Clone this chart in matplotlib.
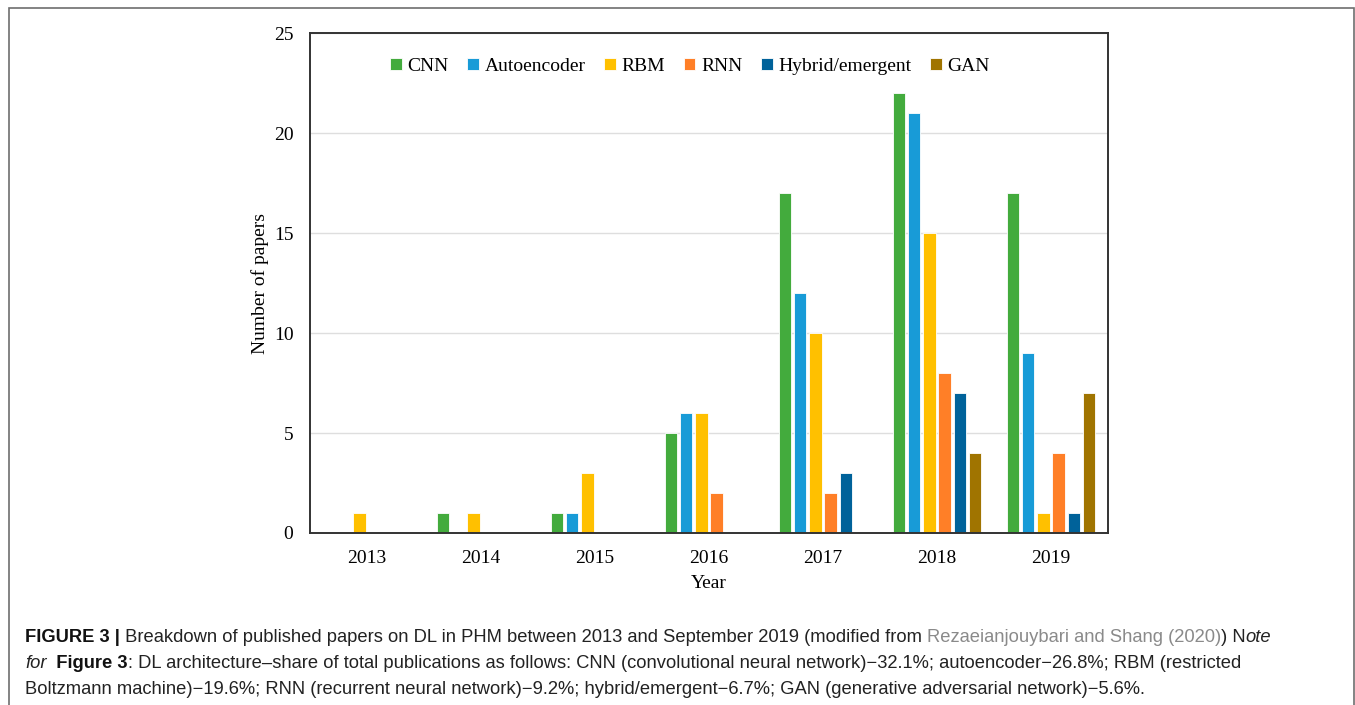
import numpy as np
import matplotlib
matplotlib.use("Agg")
import matplotlib.pyplot as plt
from matplotlib.patches import Rectangle

years = ["2013", "2014", "2015", "2016", "2017", "2018", "2019"]
series_names = ["CNN", "Autoencoder", "RBM", "RNN", "Hybrid/emergent", "GAN"]
cnn = [0, 1, 1, 5, 17, 22, 17]
autoencoder = [0, 0, 1, 6, 12, 21, 9]
rbm = [1, 1, 3, 6, 10, 15, 1]
rnn = [0, 0, 0, 2, 2, 8, 4]
hybrid = [0, 0, 0, 0, 3, 7, 1]
gan = [0, 0, 0, 0, 0, 4, 7]
colors = ["#43ab3d", "#189bd7", "#ffc000", "#ff7f27", "#00629a", "#a07400"]

serif = "Liberation Serif"
sans = "Liberation Sans"

fig = plt.figure(figsize=(13.55, 7.05), dpi=100)
ax = fig.add_axes([0.2288, 0.244, 0.5889, 0.709])
ax.set_axisbelow(True)

x = np.arange(len(years))
step = 0.133
width = 0.107
for i, (vals, name) in enumerate(zip([cnn, autoencoder, rbm, rnn, hybrid, gan], series_names)):
    ax.bar(x + (i - 2.5) * step, vals, width, color=colors[i], label=name,
           edgecolor="white", linewidth=0.6, zorder=2)

ax.set_xlim(-0.5, len(years) - 0.5)
ax.set_ylim(0, 25)
ax.set_yticks([0, 5, 10, 15, 20, 25])
ax.set_xticks(x)
ax.set_xticklabels(years)
ax.tick_params(length=0, labelsize=14, pad=12)
for lab in ax.get_xticklabels() + ax.get_yticklabels():
    lab.set_fontfamily(serif)
ax.yaxis.grid(True, color="#dedede", linewidth=1)
for s in ax.spines.values():
    s.set_color("#333333")
    s.set_linewidth(1.4)

ax.set_ylabel("Number of papers", fontsize=14, family=serif, labelpad=3.5)
ax.set_xlabel("Year", fontsize=14, family=serif, labelpad=6)

leg = ax.legend(loc="upper center", bbox_to_anchor=(0.476, 0.985), ncol=6, frameon=False,
                prop={"family": serif, "size": 14}, handlelength=0.6, handleheight=0.6,
                handletextpad=0.3, columnspacing=0.95)

# outer frame
fig.patches.append(Rectangle((9 / 1355, -0.05), 1345 / 1355, 1.05 - 8 / 705,
                             transform=fig.transFigure, fill=False,
                             edgecolor="#6e6e6e", linewidth=1.2))

# caption with mixed styles
renderer = fig.canvas.get_renderer()
lines = [
    [("FIGURE 3 |", "bold", "normal", "#111111"),
     (" Breakdown of published papers on DL in PHM between 2013 and September 2019 (modified from ", "normal", "normal", "#222222"),
     ("Rezaeianjouybari and Shang (2020)", "normal", "normal", "#8a8a8a"),
     (") N", "normal", "normal", "#222222"),
     ("ote", "normal", "italic", "#222222")],
    [("for", "normal", "italic", "#222222"),
     ("  Figure 3", "bold", "normal", "#111111"),
     (": DL architecture\u2013share of total publications as follows: CNN (convolutional neural network)\u221232.1%; autoencoder\u221226.8%; RBM (restricted", "normal", "normal", "#222222")],
    [("Boltzmann machine)\u221219.6%; RNN (recurrent neural network)\u22129.2%; hybrid/emergent\u22126.7%; GAN (generative adversarial network)\u22125.6%.", "normal", "normal", "#222222")],
]
y_px = [637, 663, 689]
for parts, yp in zip(lines, y_px):
    xp = 25
    for txt, weight, style, col in parts:
        t = fig.text(xp / 1355, 1 - yp / 705, txt, fontsize=13.2, family=sans,
                     weight=weight, style=style, color=col, va="center", ha="left")
        bb = t.get_window_extent(renderer=renderer)
        xp += bb.width

fig.savefig("out.png", dpi=100)
